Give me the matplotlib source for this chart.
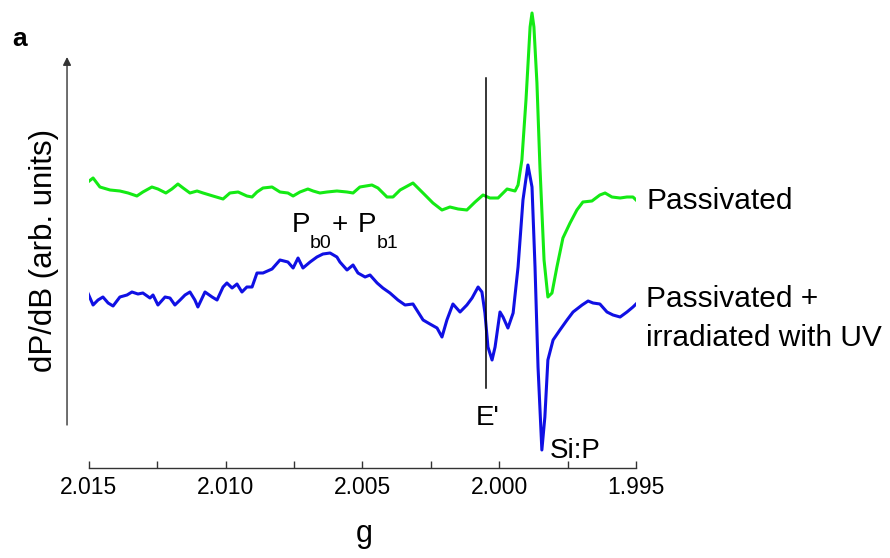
import matplotlib
matplotlib.use("Agg")
import matplotlib.pyplot as plt

plt.rcParams['font.family'] = ['Liberation Sans', 'DejaVu Sans']

# g values and signal (arb. units) for the passivated sample (green)
g_pass = [2.01503, 2.01484, 2.01459, 2.01422, 2.01386, 2.01356, 2.01324, 2.01302,
          2.01269, 2.01247, 2.01218, 2.01196, 2.01174, 2.01155, 2.01130, 2.01104,
          2.01082, 2.01046, 2.01009, 2.00984, 2.00954, 2.00922, 2.00903, 2.00885,
          2.00863, 2.00830, 2.00801, 2.00772, 2.00753, 2.00728, 2.00699, 2.00680,
          2.00655, 2.00629, 2.00593, 2.00556, 2.00534, 2.00509, 2.00465, 2.00443,
          2.00410, 2.00388, 2.00362, 2.00315, 2.00271, 2.00242, 2.00209, 2.00180,
          2.00150, 2.00118, 2.00088, 2.00059, 2.00034, 2.00004, 1.99971, 1.99942,
          1.99931, 1.99917, 1.99902, 1.99887, 1.99880, 1.99873, 1.99862, 1.99851,
          1.99836, 1.99822, 1.99807, 1.99789, 1.99767, 1.99741, 1.99716, 1.99694,
          1.99661, 1.99632, 1.99613, 1.99588, 1.99558, 1.99533, 1.99511, 1.99496]
s_pass = [286, 290, 281, 278, 277, 275, 272, 276,
          281, 279, 275, 279, 284, 280, 275, 277,
          275, 272, 269, 275, 276, 272, 271, 276,
          280, 281, 276, 275, 272, 276, 279, 277,
          275, 276, 277, 276, 275, 281, 283, 280,
          271, 271, 278, 285, 273, 265, 258, 261,
          259, 258, 266, 273, 270, 270, 279, 277,
          283, 308, 368, 441, 455, 441, 385, 301,
          208, 171, 175, 201, 230, 245, 258, 266,
          267, 273, 275, 271, 270, 271, 271, 267]

# passivated + UV irradiated sample (blue)
g_uv = [2.01503, 2.01484, 2.01466, 2.01448, 2.01429, 2.01411, 2.01386, 2.01360,
        2.01342, 2.01320, 2.01302, 2.01276, 2.01265, 2.01247, 2.01221, 2.01203,
        2.01185, 2.01166, 2.01148, 2.01130, 2.01112, 2.01101, 2.01075, 2.01049,
        2.01031, 2.01009, 2.00995, 2.00976, 2.00958, 2.00940, 2.00922, 2.00903,
        2.00885, 2.00863, 2.00830, 2.00801, 2.00772, 2.00753, 2.00735, 2.00717,
        2.00691, 2.00666, 2.00644, 2.00618, 2.00593, 2.00582, 2.00556, 2.00534,
        2.00516, 2.00490, 2.00472, 2.00446, 2.00425, 2.00399, 2.00370, 2.00344,
        2.00315, 2.00278, 2.00253, 2.00227, 2.00209, 2.00191, 2.00169, 2.00143,
        2.00118, 2.00099, 2.00077, 2.00063, 2.00052, 2.00041, 2.00026, 2.00015,
        1.99997, 1.99986, 1.99968, 1.99949, 1.99931, 1.99913, 1.99895, 1.99880,
        1.99869, 1.99858, 1.99844, 1.99833, 1.99822, 1.99803, 1.99778, 1.99752,
        1.99730, 1.99697, 1.99675, 1.99657, 1.99632, 1.99606, 1.99584, 1.99558,
        1.99533, 1.99511, 1.99496]
s_uv = [175, 163, 168, 171, 165, 162, 171, 173,
        176, 174, 175, 170, 173, 163, 171, 170,
        163, 168, 173, 176, 168, 161, 176, 171,
        168, 181, 185, 180, 184, 176, 181, 181,
        195, 195, 199, 208, 206, 200, 210, 200,
        206, 211, 214, 215, 211, 206, 198, 203,
        195, 191, 193, 185, 180, 175, 168, 163,
        164, 148, 144, 140, 131, 148, 164, 156,
        163, 170, 181, 176, 155, 121, 108, 121,
        156, 151, 140, 155, 201, 268, 303, 281,
        201, 101, 18, 51, 108, 128, 138, 148,
        156, 163, 167, 165, 164, 156, 153, 151,
        156, 161, 165]

major_ticks = [2.015, 2.010, 2.005, 2.000, 1.995]
minor_ticks = [2.0125, 2.0075, 2.0025, 1.9975]
e_prime_g = 2.00048

fig = plt.figure(figsize=(8.9, 5.58), dpi=100)
ax = fig.add_axes([0.09966, 0.16129, 0.61494, 0.83871])

ax.plot(g_pass, s_pass, color='#14ea14', lw=2.2, solid_joinstyle='round')
ax.plot(g_uv, s_uv, color='#1010e4', lw=2.2, solid_joinstyle='round')

# E' marker line
ax.plot([e_prime_g, e_prime_g], [80, 390], color='black', lw=1.1)

ax.set_xlim(2.015, 1.995)
ax.set_ylim(0, 468)
for side in ['left', 'top', 'right']:
    ax.spines[side].set_visible(False)
ax.spines['bottom'].set_color('#333333')
ax.spines['bottom'].set_linewidth(1.0)
ax.set_yticks([])
ax.set_xticks(major_ticks)
ax.set_xticklabels(['%.3f' % t for t in major_ticks])
ax.set_xticks(minor_ticks, minor=True)
ax.tick_params(axis='x', which='both', direction='in', length=5, width=1.0,
               color='#333333', labelsize=16.5, pad=6)

# y axis drawn as an arrow left of the data
ax.annotate('', xy=(-0.0396, 411), xytext=(-0.0396, 43),
            xycoords=('axes fraction', 'data'), textcoords=('axes fraction', 'data'),
            arrowprops=dict(arrowstyle='-|>', color='#333333', lw=1.0,
                            mutation_scale=12, shrinkA=0, shrinkB=0))

# labels on the curves
ax.text(1.99463, 259, 'Passivated', fontsize=21.5, va='baseline', ha='left')
ax.text(1.99463, 161, 'Passivated +', fontsize=21.5, va='baseline', ha='left')
ax.text(1.99463, 122, 'irradiated with UV', fontsize=21.5, va='baseline', ha='left')
ax.text(2.00085, 43, "E'", fontsize=20, va='baseline', ha='left')
ax.text(1.99814, 10, 'Si:P', fontsize=20, va='baseline', ha='left')

ax.text(2.00757, 236, 'P', fontsize=20, va='baseline', ha='left')
ax.text(2.00691, 220, 'b0', fontsize=14, va='baseline', ha='left')
ax.text(2.00611, 236, '+', fontsize=20, va='baseline', ha='left')
ax.text(2.00516, 236, 'P', fontsize=20, va='baseline', ha='left')
ax.text(2.00446, 220, 'b1', fontsize=14, va='baseline', ha='left')

fig.text(44 / 890, 1 - 250 / 558, 'dP/dB (arb. units)', fontsize=22.5,
         rotation=90, ha='center', va='center')
fig.text(364 / 890, 1 - 542 / 558, 'g', fontsize=22, ha='center', va='baseline')
fig.text(12 / 890, 1 - 46 / 558, 'a', fontsize=19, fontweight='bold',
         ha='left', va='baseline')

fig.savefig('out.png', dpi=100)
